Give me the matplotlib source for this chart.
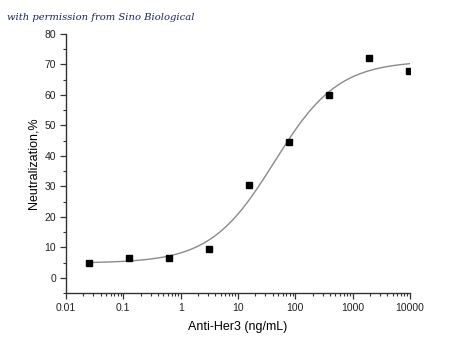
import numpy as np
import matplotlib
matplotlib.use("Agg")
import matplotlib.pyplot as plt
from matplotlib.ticker import LogLocator, FixedLocator, MultipleLocator, FuncFormatter

# measured data (5-fold dilution series)
conc = [0.025, 0.125, 0.625, 3.125, 15.625, 78.125, 390.625, 1953.125, 9765.625]
neutral = [5.0, 6.6, 6.6, 9.6, 30.5, 44.6, 60.0, 72.1, 67.8]

# 4PL fit as drawn in the original (bottom, top, EC50, hill)
fit_params = [4.8, 71.2, 43.0, 0.78]

x_ticks = [0.01, 0.1, 1, 10, 100, 1000, 10000]
x_tick_labels = ["0.01", "0.1", "1", "10", "100", "1000", "10000"]
y_ticks = [0, 10, 20, 30, 40, 50, 60, 70, 80]


def logistic(x, bottom, top, ec50, hill):
    return bottom + (top - bottom) / (1 + (ec50 / x) ** hill)


fig = plt.figure(figsize=(4.5, 3.61), dpi=100)
ax = fig.add_axes([0.1467, 0.1884, 0.7644, 0.7174])

xs = np.logspace(np.log10(conc[0]), np.log10(conc[-1]), 300)
ax.plot(xs, logistic(xs, *fit_params), color="#8a8a8a", lw=1.0, zorder=2)
ax.plot(conc, neutral, ls="none", marker="s", ms=4.2, color="black", zorder=3)

ax.set_xscale("log")
ax.set_xlim(0.01, 10000)
ax.set_ylim(-5, 80)
ax.xaxis.set_major_locator(FixedLocator(x_ticks))
ax.xaxis.set_major_formatter(FuncFormatter(lambda v, p: x_tick_labels[x_ticks.index(v)] if v in x_ticks else ""))
ax.xaxis.set_minor_locator(LogLocator(base=10, subs=np.arange(2, 10)))
ax.yaxis.set_major_locator(FixedLocator(y_ticks))
ax.yaxis.set_minor_locator(MultipleLocator(5))

for s in ["top", "right"]:
    ax.spines[s].set_visible(False)
for s in ["left", "bottom"]:
    ax.spines[s].set_color("#333333")
    ax.spines[s].set_linewidth(1.0)

ax.tick_params(which="major", direction="out", length=4, width=0.9, color="#333333",
               labelsize=7.5, labelcolor="#222222", pad=3)
ax.tick_params(which="minor", direction="out", length=2, width=0.8, color="#333333")

ax.set_xlabel("Anti-Her3 (ng/mL)", fontsize=9, family="Liberation Sans", labelpad=6)
ax.set_ylabel("Neutralization,%", fontsize=9, family="Liberation Sans", labelpad=4)
for lab in ax.get_xticklabels() + ax.get_yticklabels():
    lab.set_family("Liberation Sans")

fig.text(0.016, 0.952, "with permission from Sino Biological", fontsize=7.2,
         style="italic", family="DejaVu Serif", color="#1c2461", va="center")

fig.savefig("out.png", dpi=100)
